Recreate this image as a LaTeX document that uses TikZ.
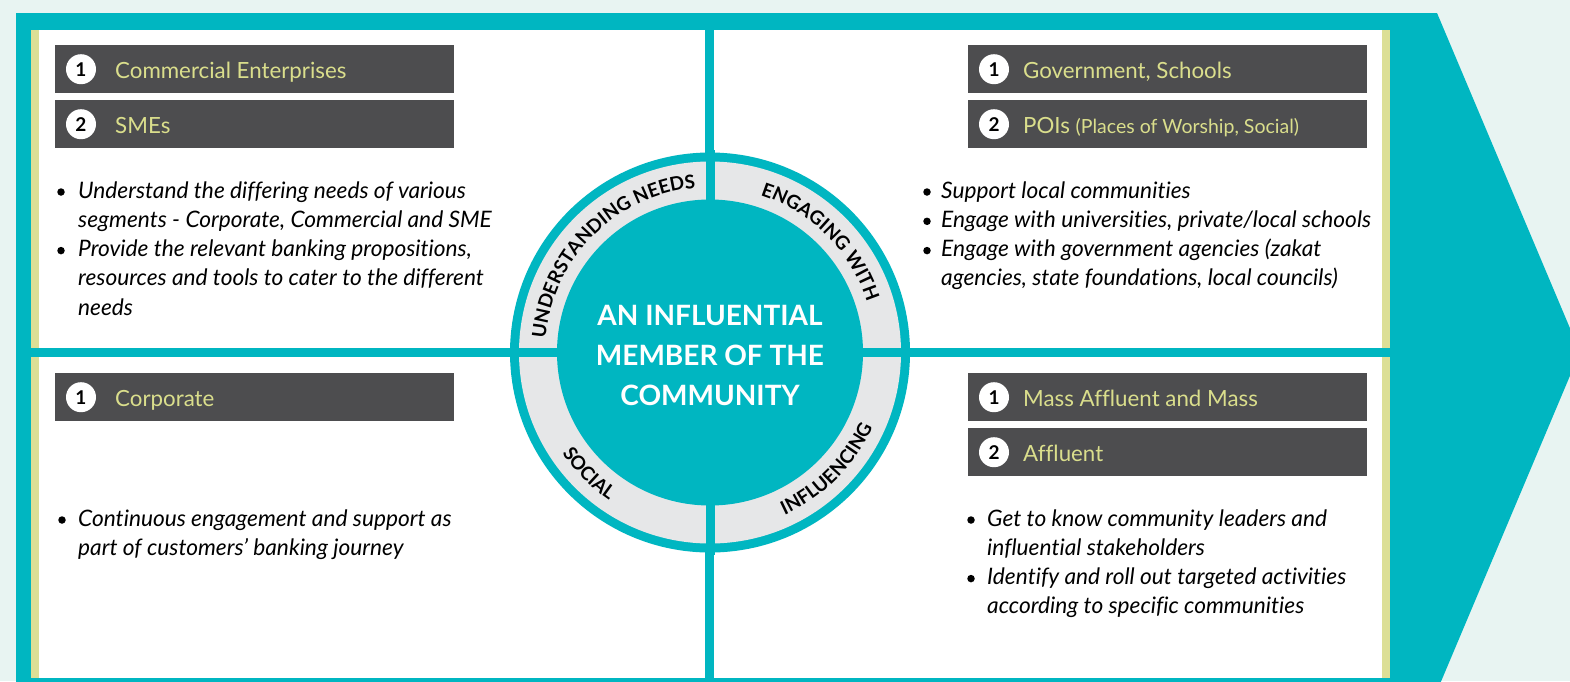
\documentclass[tikz,border=0pt]{standalone}
\usepackage{fontspec}
\setmainfont{Lato}[Ligatures={NoCommon}]
\usetikzlibrary{decorations.text}
\definecolor{tealc}{RGB}{0,182,193}
\definecolor{bgc}{RGB}{232,244,242}
\definecolor{hdr}{RGB}{77,77,79}
\definecolor{hdrtext}{RGB}{218,222,140}
\definecolor{stripec}{RGB}{220,223,150}
\definecolor{ringc}{RGB}{230,231,232}
\newcommand\ringfont{\fontsize{19}{19}\selectfont\bfseries}
\tikzset{
  hbox/.style={fill=hdr, minimum width=399pt, minimum height=48pt, inner sep=0pt, anchor=north west},
  numc/.style={circle, fill=white, minimum size=30pt, inner sep=0pt, font=\fontsize{19}{19}\selectfont\bfseries, text=black},
  htext/.style={anchor=base west, inner sep=0pt, text=hdrtext, font=\fontsize{22.3}{22.3}\selectfont},
  btext/.style={anchor=base west, inner sep=0pt, text=black, font=\fontsize{22.7}{22.7}\selectfont\itshape},
  bdot/.style={circle, fill=black, minimum size=7.5pt, inner sep=0pt}
}
\begin{document}
\begin{tikzpicture}[x=1pt,y=-1pt]
\useasboundingbox (0,0) rectangle (1570,681);
\clip (0,0) rectangle (1570,681);
\fill[bgc] (0,0) rectangle (1570,681);
% arrow body
\fill[tealc] (16,13) -- (1437,13) -- (1580,352) -- (1437,691) -- (16,691) -- cycle;
% panels
\fill[white] (39,30) rectangle (705,348);
\fill[stripec] (31,30) rectangle (39,348);
\fill[white] (714,30) rectangle (1382,348);
\fill[stripec] (1382,30) rectangle (1390,348);
\fill[white] (39,357) rectangle (705,678);
\fill[stripec] (31,357) rectangle (39,678);
\fill[white] (714,357) rectangle (1382,678);
\fill[stripec] (1382,357) rectangle (1390,678);
% central circle
\coordinate (c) at (710,352.5);
\fill[tealc] (c) circle[radius=200pt];
\fill[ringc] (c) circle[radius=191pt];
\fill[tealc] (c) circle[radius=153pt];
\fill[tealc] (705.5,150) rectangle (714.5,555);
\fill[tealc] (508,348) rectangle (912,357);
% ring texts
\path[decorate, decoration={text along path, text align=center, text={|\ringfont|UNDERSTANDING NEEDS}}]
  (c) ++(179:165pt) arc[start angle=179, end angle=91, radius=165pt];
\path[decorate, decoration={text along path, text align=center, text={|\ringfont|ENGAGING WITH}}]
  (c) ++(89:165pt) arc[start angle=89, end angle=1, radius=165pt];
\path[decorate, decoration={text along path, text align=center, text={|\ringfont|SOCIAL}}]
  (c) ++(182:179pt) arc[start angle=182, end angle=268, radius=179pt];
\path[decorate, decoration={text along path, text align=center, text={|\ringfont|INFLUENCING}}]
  (c) ++(272:179pt) arc[start angle=272, end angle=358, radius=179pt];
\node[text=white, align=center, font=\fontsize{28}{40}\selectfont\bfseries] (center) at (710,355)
  {AN INFLUENTIAL\\MEMBER OF THE\\COMMUNITY};
% headers top-left
\node[hbox] (tl1) at (55,45) {};
\node[numc] (tl1n) at ([xshift=26pt]tl1.west) {1};
\node[htext] (tl1t) at ([xshift=60pt,yshift=-9pt]tl1.west) {Commercial Enterprises};
\node[hbox] (tl2) at (55,100) {};
\node[numc] (tl2n) at ([xshift=26pt]tl2.west) {2};
\node[htext] (tl2t) at ([xshift=60pt,yshift=-9pt]tl2.west) {SMEs};
% headers top-right
\node[hbox] (tr1) at (968,45) {};
\node[numc] (tr1n) at ([xshift=26pt]tr1.west) {1};
\node[htext] (tr1t) at ([xshift=55pt,yshift=-9pt]tr1.west) {Government, Schools};
\node[hbox] (tr2) at (968,100) {};
\node[numc] (tr2n) at ([xshift=26pt]tr2.west) {2};
\node[htext] (tr2t) at ([xshift=55pt,yshift=-9pt]tr2.west) {POIs {\fontsize{19.5}{19.5}\selectfont(Places of Worship, Social)}};
% headers bottom-left
\node[hbox] (bl1) at (55,373) {};
\node[numc] (bl1n) at ([xshift=26pt]bl1.west) {1};
\node[htext] (bl1t) at ([xshift=60pt,yshift=-9pt]bl1.west) {Corporate};
% headers bottom-right
\node[hbox] (br1) at (968,373) {};
\node[numc] (br1n) at ([xshift=26pt]br1.west) {1};
\node[htext] (br1t) at ([xshift=55pt,yshift=-9pt]br1.west) {Mass Affluent and Mass};
\node[hbox] (br2) at (968,428) {};
\node[numc] (br2n) at ([xshift=26pt]br2.west) {2};
\node[htext] (br2t) at ([xshift=55pt,yshift=-9pt]br2.west) {Affluent};
% bullets top-left
\node[bdot] (tlb1) at (61,192) {};
\node[btext] (tla) at (78,198) {Understand the differing needs of various};
\node[btext] (tlb) at (78,227.3) {segments - Corporate, Commercial and SME};
\node[bdot] (tlb2) at (61,250.6) {};
\node[btext] (tlc) at (78,256.6) {Provide the relevant banking propositions,};
\node[btext] (tld) at (78,285.9) {resources and tools to cater to the different};
\node[btext] (tle) at (78,315.2) {needs};
% bullets top-right
\node[bdot] (trb1) at (927,192) {};
\node[btext] (tra) at (941,198) {Support local communities};
\node[bdot] (trb2) at (927,221.3) {};
\node[btext] (trb) at (941,227.3) {Engage with universities, private/local schools};
\node[bdot] (trb3) at (927,250.6) {};
\node[btext] (trc) at (941,256.6) {Engage with government agencies (zakat};
\node[btext] (trd) at (941,285.9) {agencies, state foundations, local councils)};
% bullets bottom-left
\node[bdot] (blb1) at (62,520) {};
\node[btext] (bla) at (78,526) {Continuous engagement and support as};
\node[btext] (blb) at (78,555.3) {part of customers’ banking journey};
% bullets bottom-right
\node[bdot] (brb1) at (971,520) {};
\node[btext] (bra) at (987,526) {Get to know community leaders and};
\node[btext] (brb) at (987,555.3) {influential stakeholders};
\node[bdot] (brb2) at (971,578.6) {};
\node[btext] (brc) at (987,584.6) {Identify and roll out targeted activities};
\node[btext] (brd) at (987,613.9) {according to specific communities};
\end{tikzpicture}
\end{document}
